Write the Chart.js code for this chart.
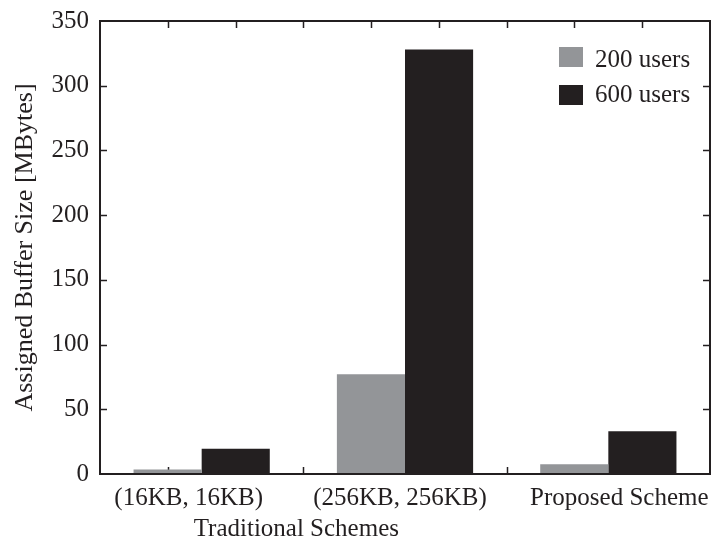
<!DOCTYPE html>
<html>
<head>
<meta charset="utf-8">
<script src="https://cdn.jsdelivr.net/npm/chart.js@4/dist/chart.umd.min.js"></script>
<style>
  html, body { margin: 0; padding: 0; background: #ffffff; }
  #wrap { width: 716px; height: 549px; }
</style>
</head>
<body>
<div id="wrap"><canvas id="c" width="716" height="549"></canvas></div>
<script>
// ---- data ----
const categories = ['(16KB, 16KB)', '(256KB, 256KB)', 'Proposed Scheme'];
const seriesNames = ['200 users', '600 users'];
const users200 = [3.5, 77, 7.5];
const users600 = [19.5, 328, 33];
const groupLabel = 'Traditional Schemes';
const groupMembers = [0, 1];
const yTitle = 'Assigned Buffer Size [MBytes]';
const yMin = 0, yMax = 350, yStep = 50;

// ---- style ----
const INK = '#231f20';
const GRAY = '#939598';
const FONT = "'Liberation Serif', 'Times New Roman', serif";
const labelShift = [-13, -5, 11];

const framePlugin = {
  id: 'frame',
  beforeDatasetsDraw(chart) {
    const { ctx, chartArea: a } = chart;
    ctx.save();
    ctx.strokeStyle = INK;
    ctx.lineWidth = 1.5;
    ctx.beginPath();
    for (let k = 1; k < 9; k++) {
      const x = Math.round(a.left + (a.right - a.left) * k / 9) + 0.5;
      ctx.moveTo(x, a.bottom); ctx.lineTo(x, a.bottom - 7);
    }
    ctx.stroke();
    ctx.restore();
  },
  afterDatasetsDraw(chart) {
    const { ctx, chartArea: a } = chart;
    const y = chart.scales.y;
    ctx.save();
    ctx.strokeStyle = INK;
    ctx.lineWidth = 1.5;
    ctx.beginPath();
    for (let k = 1; k < 9; k++) {
      const x = Math.round(a.left + (a.right - a.left) * k / 9) + 0.5;
      ctx.moveTo(x, a.top); ctx.lineTo(x, a.top + 7);
    }
    y.ticks.forEach(t => {
      if (t.value === yMin || t.value === yMax) return;
      const py = Math.round(y.getPixelForValue(t.value)) + 0.5;
      ctx.moveTo(a.left, py); ctx.lineTo(a.left + 7, py);
      ctx.moveTo(a.right, py); ctx.lineTo(a.right - 7, py);
    });
    ctx.stroke();
    ctx.lineWidth = 2;
    ctx.strokeRect(a.left, a.top, a.right - a.left, a.bottom - a.top);

    // category labels
    const xs = chart.scales.x;
    ctx.fillStyle = INK;
    ctx.font = '25px ' + FONT;
    ctx.textAlign = 'center';
    ctx.textBaseline = 'alphabetic';
    categories.forEach((c, i) => {
      ctx.fillText(c, xs.getPixelForValue(i) + labelShift[i], a.bottom + 31);
    });
    const gx = (xs.getPixelForValue(groupMembers[0]) + xs.getPixelForValue(groupMembers[groupMembers.length - 1])) / 2 - 7;
    ctx.fillText(groupLabel, gx, a.bottom + 62);

    // legend
    ctx.textAlign = 'left';
    chart.data.datasets.forEach((ds, i) => {
      const by = a.top + 26 + i * 38;
      ctx.fillStyle = ds.backgroundColor;
      ctx.fillRect(a.right - 151, by, 24, 20);
      ctx.fillStyle = INK;
      ctx.fillText(ds.label, a.right - 115, a.top + 46 + i * 35);
    });
    ctx.restore();
  }
};

new Chart(document.getElementById('c'), {
  type: 'bar',
  data: {
    labels: categories,
    datasets: [
      { label: seriesNames[0], data: users200, backgroundColor: GRAY, borderWidth: 0 },
      { label: seriesNames[1], data: users600, backgroundColor: INK, borderWidth: 0 }
    ]
  },
  options: {
    responsive: false,
    devicePixelRatio: 1,
    animation: false,
    layout: { padding: { left: 0, right: 6, top: 21, bottom: 0 } },
    datasets: { bar: { categoryPercentage: 0.67, barPercentage: 1.0 } },
    plugins: { legend: { display: false }, tooltip: { enabled: false } },
    scales: {
      x: {
        type: 'category',
        grid: { display: false, drawTicks: false },
        border: { display: true, color: INK, width: 2 },
        ticks: { display: false },
        afterFit(s) { s.height = 75; s.paddingLeft = 0; s.paddingRight = 0; }
      },
      y: {
        min: yMin, max: yMax,
        grid: { display: false, drawTicks: false },
        border: { display: true, color: INK, width: 2 },
        ticks: { stepSize: yStep, padding: 11, color: INK, font: { family: FONT, size: 25 } },
        title: { display: true, text: yTitle, color: INK, font: { family: FONT, size: 26 }, padding: { top: 10, bottom: 0 } },
        afterFit(s) { s.width = 100; s.paddingTop = 0; s.paddingBottom = 0; }
      }
    }
  },
  plugins: [framePlugin]
});
</script>
</body>
</html>
